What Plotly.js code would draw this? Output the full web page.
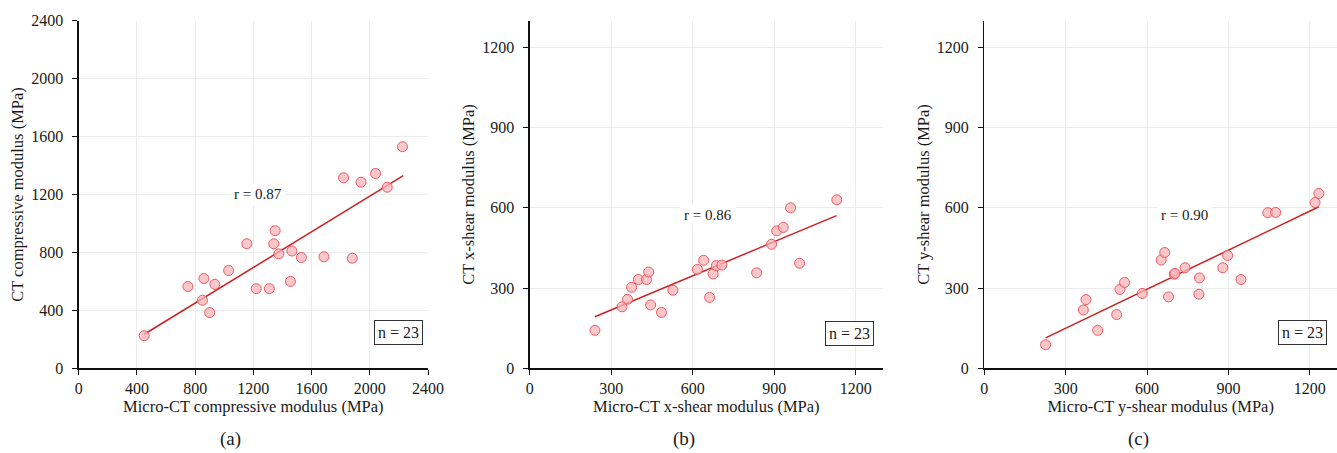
<!DOCTYPE html>
<html>
<head>
<meta charset="utf-8">
<script src="https://cdn.plot.ly/plotly-3.0.1.min.js"></script>
<style>html,body{margin:0;padding:0;background:#fff;}#chart{width:1337px;height:453px;}</style>
</head>
<body>
<div id="chart"></div>
<script>
// Panel (a): compressive modulus
const compMicroCT = [450, 750, 850, 860, 900, 935, 1030, 1155, 1220, 1310, 1340, 1350, 1375, 1455, 1465, 1530, 1685, 1880, 1820, 1940, 2040, 2120, 2225];
const compCT      = [225, 565, 470, 620, 385, 580, 675, 860, 550, 550, 860, 950, 790, 600, 810, 765, 770, 760, 1315, 1285, 1345, 1250, 1530];
const compFitX = [450, 2230];
const compFitY = [235, 1330];

// Panel (b): x-shear modulus
const xsMicroCT = [240, 340, 360, 375, 400, 430, 438, 445, 485, 527, 617, 640, 662, 675, 687, 707, 835, 890, 909, 933, 960, 993, 1130];
const xsCT      = [142, 230, 258, 303, 332, 332, 360, 237, 209, 292, 370, 404, 265, 353, 384, 386, 357, 464, 514, 527, 600, 393, 630];
const xsFitX = [240, 1129];
const xsFitY = [193, 571];

// Panel (c): y-shear modulus
const ysMicroCT = [226, 365, 375, 418, 488, 500, 517, 582, 652, 665, 679, 700, 703, 740, 793, 791, 879, 897, 946, 1045, 1074, 1219, 1233];
const ysCT      = [88, 218, 257, 142, 201, 295, 321, 280, 405, 433, 267, 352, 355, 376, 338, 277, 376, 422, 332, 582, 583, 620, 654];
const ysFitX = [226, 1233];
const ysFitY = [114, 604];

const rLabels = ['r = 0.87', 'r = 0.86', 'r = 0.90'];
const rPos = [[1235, 1201], [656, 572], [739, 572]];
const nLabel = 'n = 23';
const panelLabels = ['(a)', '(b)', '(c)'];
const xTitles = ['Micro-CT compressive modulus (MPa)', 'Micro-CT x-shear modulus (MPa)', 'Micro-CT y-shear modulus (MPa)'];
const yTitles = ['CT compressive modulus (MPa)', 'CT x-shear modulus (MPa)', 'CT y-shear modulus (MPa)'];

const FONT = 'Liberation Serif, Times New Roman, serif';
const markerStyle = {symbol: 'circle', size: 10, color: 'rgba(248,180,184,0.75)', line: {color: '#f05a5f', width: 1}};
const lineStyle = {color: '#cc1f1f', width: 1.5};

const sets = [
  [compMicroCT, compCT, compFitX, compFitY],
  [xsMicroCT, xsCT, xsFitX, xsFitY],
  [ysMicroCT, ysCT, ysFitX, ysFitY]
];
const traces = [];
sets.forEach((s, i) => {
  const xa = i === 0 ? 'x' : 'x' + (i + 1);
  const ya = i === 0 ? 'y' : 'y' + (i + 1);
  traces.push({x: s[2], y: s[3], mode: 'lines', type: 'scatter', line: lineStyle, xaxis: xa, yaxis: ya, hoverinfo: 'skip', cliponaxis: false});
  traces.push({x: s[0], y: s[1], mode: 'markers', type: 'scatter', marker: markerStyle, xaxis: xa, yaxis: ya, cliponaxis: false});
});

const yDom = [1 - 368.3 / 453, 1 - 20.7 / 453];
const xDoms = [[78.7 / 1337, 428 / 1337], [529.7 / 1337, 883 / 1337], [984.3 / 1337, 1337 / 1337]];
const ranges = [[0, 2400], [0, 1300], [0, 1300]];
const dticks = [400, 300, 300];

function axis(i, isX) {
  return {
    domain: isX ? xDoms[i] : yDom,
    range: ranges[i],
    dtick: dticks[i],
    tick0: 0,
    showline: true,
    linecolor: '#111',
    linewidth: 1.3,
    ticks: 'outside',
    ticklen: 5,
    tickwidth: 1,
    tickcolor: '#111',
    ticklabelstandoff: isX ? 0 : 6,
    showgrid: true,
    gridcolor: '#ececec',
    gridwidth: 1,
    zeroline: false,
    tickfont: {family: FONT, size: 16, color: '#1a1a1a'},
    title: {text: isX ? xTitles[i] : yTitles[i], font: {family: FONT, size: 16.5, color: '#1a1a1a'}, standoff: isX ? 4 : 3},
    anchor: isX ? (i === 0 ? 'y' : 'y' + (i + 1)) : (i === 0 ? 'x' : 'x' + (i + 1)),
    fixedrange: true
  };
}

const layout = {
  width: 1337, height: 453,
  margin: {l: 0, r: 0, t: 0, b: 0},
  paper_bgcolor: '#fff', plot_bgcolor: '#fff',
  showlegend: false,
  font: {family: FONT, color: '#1a1a1a'},
  annotations: [],
  hovermode: false
};
for (let i = 0; i < 3; i++) {
  const sfx = i === 0 ? '' : String(i + 1);
  layout['xaxis' + sfx] = axis(i, true);
  layout['yaxis' + sfx] = axis(i, false);
  layout.annotations.push({
    xref: 'x' + sfx, yref: 'y' + sfx, x: rPos[i][0], y: rPos[i][1],
    xanchor: 'center', yanchor: 'middle',
    text: rLabels[i], showarrow: false, bgcolor: '#fff', borderpad: 3,
    font: {family: FONT, size: 15, color: '#1a1a1a'}
  });
  layout.annotations.push({
    xref: 'x' + sfx + ' domain', yref: 'y' + sfx + ' domain', x: [0.915, 0.905, 0.903][i], y: [0.1036, 0.099, 0.102][i],
    xanchor: 'center', yanchor: 'middle',
    text: nLabel, showarrow: false, bgcolor: '#fff', bordercolor: '#333', borderwidth: 1, borderpad: 3,
    font: {family: FONT, size: 16, color: '#1a1a1a'}
  });
  layout.annotations.push({
    xref: 'paper', yref: 'paper', x: [230, 684, 1138][i] / 1337, y: 0, xanchor: 'center', yanchor: 'bottom', yshift: 1,
    text: panelLabels[i], showarrow: false,
    font: {family: FONT, size: 19, color: '#1a1a1a'}
  });
}

Plotly.newPlot('chart', traces, layout, {displayModeBar: false, staticPlot: true});
</script>
</body>
</html>
